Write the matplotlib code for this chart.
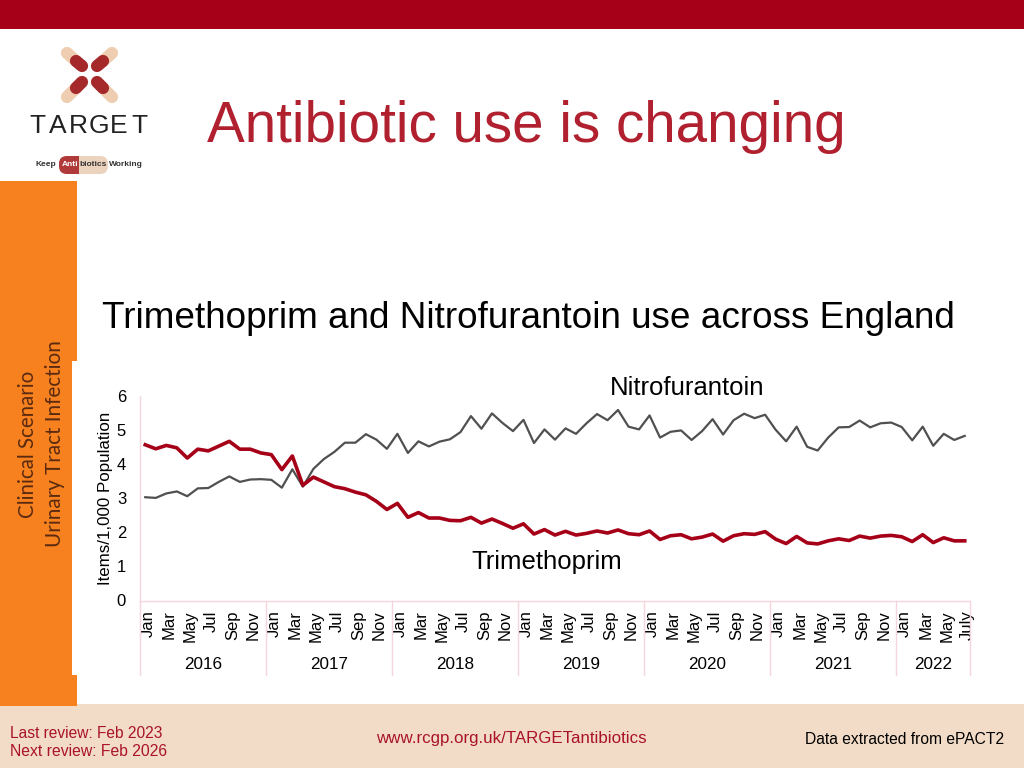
import matplotlib
matplotlib.use('Agg')
import matplotlib.pyplot as plt
from matplotlib.patches import Rectangle, FancyBboxPatch
from matplotlib.transforms import ScaledTranslation

plt.rcParams['font.family'] = ['Liberation Sans', 'DejaVu Sans']

# Dados (Jan 2016 - Jul 2022)
months = ['Jan', 'Feb', 'Mar', 'Apr', 'May', 'Jun', 'Jul', 'Aug', 'Sep', 'Oct', 'Nov', 'Dec']
years = ['2016', '2017', '2018', '2019', '2020', '2021', '2022']
year_lengths = [12, 12, 12, 12, 12, 12, 7]

trimethoprim = [
    4.57, 4.45, 4.55, 4.48, 4.18, 4.44, 4.39, 4.53, 4.67, 4.44, 4.44, 4.33,
    4.28, 3.84, 4.24, 3.38, 3.62, 3.48, 3.34, 3.28, 3.18, 3.10, 2.91, 2.67,
    2.85, 2.44, 2.58, 2.42, 2.42, 2.35, 2.34, 2.44, 2.27, 2.39, 2.26, 2.12,
    2.25, 1.95, 2.08, 1.92, 2.03, 1.92, 1.97, 2.04, 1.98, 2.07, 1.96, 1.93,
    2.04, 1.79, 1.90, 1.93, 1.81, 1.86, 1.95, 1.74, 1.90, 1.96, 1.94, 2.02,
    1.80, 1.67, 1.88, 1.69, 1.66, 1.75, 1.81, 1.76, 1.89, 1.83, 1.89, 1.91,
    1.87, 1.73, 1.93, 1.70, 1.84, 1.75, 1.75,
]
nitrofurantoin = [
    3.03, 3.01, 3.14, 3.20, 3.06, 3.29, 3.30, 3.48, 3.64, 3.48, 3.55, 3.56,
    3.54, 3.31, 3.85, 3.34, 3.86, 4.15, 4.36, 4.63, 4.63, 4.88, 4.72, 4.45,
    4.89, 4.33, 4.67, 4.52, 4.66, 4.73, 4.94, 5.41, 5.04, 5.49, 5.21, 4.97,
    5.30, 4.62, 5.02, 4.72, 5.05, 4.89, 5.20, 5.47, 5.29, 5.59, 5.10, 5.02,
    5.43, 4.78, 4.95, 4.99, 4.71, 4.97, 5.32, 4.87, 5.29, 5.48, 5.35, 5.45,
    5.01, 4.67, 5.10, 4.51, 4.40, 4.78, 5.08, 5.09, 5.28, 5.08, 5.20, 5.22,
    5.09, 4.70, 5.10, 4.54, 4.89, 4.71, 4.83,
]

RED = '#A60019'
TITLE_RED = '#B0202F'
FOOT_RED = '#A9122B'
ORANGE = '#F7811E'
TAN = '#F3DCC7'
PINK = '#F6D5DC'
GREY = '#505050'

fig = plt.figure(figsize=(10.24, 7.68), dpi=100)

# Fundo do slide em coordenadas de pixel
bg = fig.add_axes([0, 0, 1, 1])
bg.set_xlim(0, 1024)
bg.set_ylim(768, 0)
bg.axis('off')

bg.add_patch(Rectangle((0, 0), 1024, 29, color=RED, lw=0))
bg.add_patch(Rectangle((0, 704), 1024, 64, color=TAN, lw=0))
bg.add_patch(Rectangle((0, 181), 77, 180, color=ORANGE, lw=0))
bg.add_patch(Rectangle((0, 360), 72, 316, color=ORANGE, lw=0))
bg.add_patch(Rectangle((0, 675), 77, 31, color=ORANGE, lw=0))

# Logo
pills = [
    ((67, 53), (76, 61), (82, 66)),
    ((112, 53), (103, 61), (97, 66)),
    ((67, 97), (76, 88), (82, 82)),
    ((112, 97), (103, 88), (97, 82)),
]
for tip, mid, inner in pills:
    bg.plot([tip[0], mid[0]], [tip[1], mid[1]], color='#EFCDB0', lw=8.8, solid_capstyle='round')
    bg.plot([mid[0], inner[0]], [mid[1], inner[1]], color='#A5282A', lw=8.8, solid_capstyle='round')
for i, letter in enumerate('TARGET'):
    bg.text(37 + i * 20.5, 126, letter, fontsize=19, color='#222222', ha='center', va='center')
bg.add_patch(FancyBboxPatch((59, 156), 49, 18, boxstyle='round,pad=0,rounding_size=8',
                            color='#EBD3BE', lw=0))
red_end = FancyBboxPatch((59, 156), 40, 18, boxstyle='round,pad=0,rounding_size=8',
                         color='#B03A3A', lw=0)
bg.add_patch(red_end)
red_end.set_clip_path(Rectangle((59, 156), 20, 18, transform=bg.transData))
bg.text(36, 165, 'Keep', fontsize=6, color='#333333', va='center', fontweight='bold')
bg.text(62, 165, 'Anti', fontsize=6, color='white', va='center', fontweight='bold')
bg.text(79, 165, 'biotics', fontsize=6, color='#333333', va='center', fontweight='bold')
bg.text(109, 165, 'Working', fontsize=6, color='#333333', va='center', fontweight='bold')

# Textos
bg.text(207, 127, 'Antibiotic use is changing', fontsize=40.8, color=TITLE_RED, va='center')
bg.text(102, 318, 'Trimethoprim and Nitrofurantoin use across England', fontsize=26.6, color='black', va='center')
bg.text(28, 444, 'Clinical Scenario', fontsize=14.8, family='Lato', color='#5A2A10',
        rotation=90, ha='center', va='center')
bg.text(55, 444, 'Urinary Tract Infection', fontsize=14.9, family='Lato', color='#5A2A10',
        rotation=90, ha='center', va='center')
bg.text(10, 733, 'Last review: Feb 2023', fontsize=11.2, color=FOOT_RED, va='center')
bg.text(10, 751, 'Next review: Feb 2026', fontsize=11.3, color=FOOT_RED, va='center')
bg.text(376, 738, 'www.rcgp.org.uk/TARGETantibiotics', fontsize=12.2, color=FOOT_RED, va='center')
bg.text(805, 740, 'Data extracted from ePACT2', fontsize=11.25, color='black', va='center')

# Grafico
ax = fig.add_axes([140 / 1024, 1 - 600.5 / 768, 830 / 1024, 204.5 / 768])
ax.patch.set_alpha(0)
x = [i + 0.5 for i in range(len(trimethoprim))]
ax.plot(x, nitrofurantoin, color=GREY, lw=1.6, clip_on=False)
ax.plot(x, trimethoprim, color=RED, lw=2.6, clip_on=False)
ax.set_xlim(0, len(x))
ax.set_ylim(0, 6)
ax.set_yticks(range(7))
ax.tick_params(axis='y', length=0, labelsize=12, pad=10)

ticks = []
labels = []
for i in x[::2]:
    ticks.append(i)
    labels.append(months[int(i) % 12])
labels[-1] = 'July'
ax.set_xticks(ticks)
ax.set_xticklabels(labels, rotation=90, fontsize=12, ha='center', va='top')
ax.tick_params(axis='x', length=0, pad=7)
shift = ScaledTranslation(3 / 100, 0, fig.dpi_scale_trans)
for tick_label in ax.get_xticklabels():
    tick_label.set_transform(tick_label.get_transform() + shift)

for side in ['top', 'right']:
    ax.spines[side].set_visible(False)
for side in ['left', 'bottom']:
    ax.spines[side].set_color(PINK)
    ax.spines[side].set_linewidth(1)

ax.set_ylabel('Items/1,000 Population', fontsize=12.2)
ax.yaxis.set_label_coords(-0.032, 0.5)

# Eixo de anos
trans = ax.get_xaxis_transform()
start = 0
ax.plot([start, start], [0, -74 / 204.5], transform=trans, color=PINK, lw=1, clip_on=False)
for year, n in zip(years, year_lengths):
    end = start + n
    ax.plot([end, end], [0, -74 / 204.5], transform=trans, color=PINK, lw=1, clip_on=False)
    ax.text(start + n / 2, -64 / 204.5, year, transform=trans, fontsize=12.3, ha='center', va='center')
    start = end

bg.text(610, 388, 'Nitrofurantoin', fontsize=18.5, color='black', va='center')
bg.text(471, 562, 'Trimethoprim', fontsize=18.5, color='black', va='center')

fig.savefig('out.png', dpi=100)
